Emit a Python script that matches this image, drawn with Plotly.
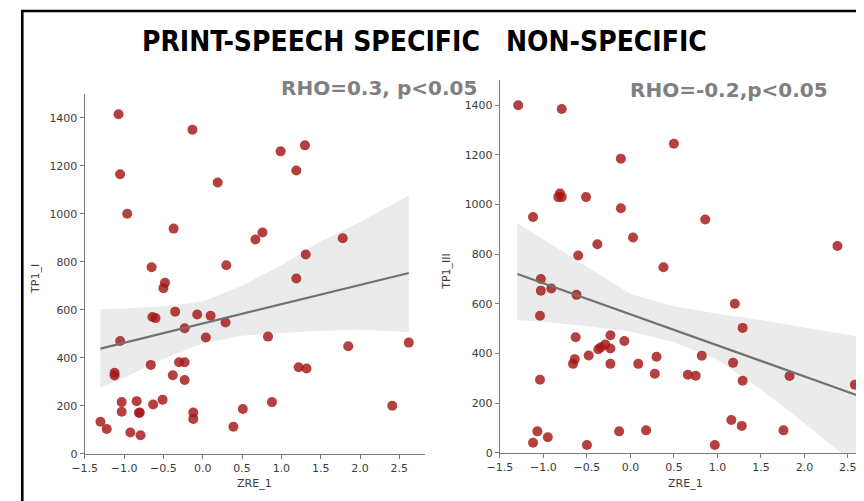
import plotly.graph_objects as go

# ---------------- data ----------------
left_x = [-1.07, -0.13, 0.99, 1.30, -1.05, 1.19, 0.19, -0.96, -0.37, 0.67, 0.76, 1.78, -0.65, 0.30, 1.31, 1.19,
          -0.48, -0.50, -0.64, -0.60, -0.35, -0.07, 0.10, -0.23, 0.29, -1.05, 0.04, 0.83, 1.85, 2.62,
          -1.12, -1.12, -0.66, -0.30, -0.23, -0.38, -0.23, 1.22, 1.32, -1.03, -1.03, -0.84, -0.81, -0.80,
          -0.63, -0.51, -1.30, -1.22, -0.92, -0.79, -0.12, -0.12, 0.39, 0.51, 0.88, 2.41]
left_y = [1415, 1350, 1260, 1285, 1165, 1180, 1130, 1000, 938, 893, 922, 898, 777, 785, 830, 730,
          712, 690, 570, 565, 592, 580, 575, 523, 547, 470, 484, 488, 448, 463,
          337, 326, 370, 381, 381, 327, 307, 360, 355, 215, 175, 219, 170, 172,
          205, 225, 133, 103, 88, 77, 172, 145, 112, 186, 215, 200]

right_x = [-1.29, -0.79, 0.50, -0.11, -0.81, -0.83, -0.79, -0.51, -1.12, -0.11, 0.86, 0.03, -0.38, -0.60, 2.38, 0.38,
           -1.03, -1.03, -0.91, -0.62, -1.04, -0.63, -0.64, -0.66, -0.48, -0.37, -0.34, -0.29, -0.23, -0.23,
           -0.23, -0.07, 0.09, 0.30, 0.28, 0.66, 0.75, 0.82, -1.04, 1.18, 1.20, 1.29, 1.29, 1.83, 2.58,
           -1.07, -1.12, -0.95, -0.50, -0.13, 0.18, 0.97, 1.16, 1.28, 1.76]
right_y = [1400, 1385, 1245, 1185, 1045, 1030, 1030, 1030, 950, 985, 940, 867, 840, 795, 833, 747,
           700, 653, 662, 636, 552, 465, 377, 358, 392, 417, 425, 436, 473, 420,
           358, 450, 358, 387, 318, 314, 310, 391, 294, 362, 600, 503, 290, 309, 274,
           86, 40, 62, 31, 86, 90, 31, 132, 108, 90]

# regression lines (end points)
left_line_x = [-1.30, 2.62]
left_line_y = [438, 753]
right_line_x = [-1.30, 2.62]
right_line_y = [720, 230]

# confidence bands
band_x = [-1.3, -1.0, -0.5, 0.0, 0.5, 1.0, 1.5, 2.0, 2.62]
left_upper = [603, 605, 614, 634, 700, 785, 885, 966, 1076]
left_lower = [274, 316, 395, 460, 492, 503, 512, 516, 507]
right_upper = [925, 860, 750, 640, 590, 560, 535, 505, 468]
right_lower = [535, 528, 510, 488, 445, 375, 255, 120, -60]

x_ticks = [-1.5, -1.0, -0.5, 0.0, 0.5, 1.0, 1.5, 2.0, 2.5]
x_tick_labels = ["\u22121.5", "\u22121.0", "\u22120.5", "0.0", "0.5", "1.0", "1.5", "2.0", "2.5"]
y_ticks = [0, 200, 400, 600, 800, 1000, 1200, 1400]
y_tick_labels = ["0", "200", "400", "600", "800", "1000", "1200", "1400"]

titles = ["PRINT-SPEECH SPECIFIC", "NON-SPECIFIC"]
rho_texts = ["RHO=0.3, p<0.05", "RHO=-0.2,p<0.05"]
y_titles = ["TP1_I", "TP1_III"]
x_title = "ZRE_1"

# ---------------- figure ----------------
W, H = 864, 501
OFF = 8  # page body margin


def px(x):
    return (x - OFF) / W


def py(y):
    return 1 - (y - OFF) / H


fig = go.Figure()

point_color = "rgba(165,22,22,0.82)"
band_color = "#ebebeb"
line_color = "#717171"


def add_panel(xs, ys, lx, ly, up, lo, xa, ya):
    fig.add_trace(go.Scatter(x=band_x + band_x[::-1], y=up + lo[::-1], fill="toself",
                             fillcolor=band_color, line=dict(width=0), mode="lines",
                             hoverinfo="skip", showlegend=False, xaxis=xa, yaxis=ya))
    fig.add_trace(go.Scatter(x=xs, y=ys, mode="markers",
                             marker=dict(size=10, color=point_color, line=dict(width=0)),
                             showlegend=False, xaxis=xa, yaxis=ya))
    fig.add_trace(go.Scatter(x=lx, y=ly, mode="lines", line=dict(color=line_color, width=2.2),
                             showlegend=False, xaxis=xa, yaxis=ya))


add_panel(left_x, left_y, left_line_x, left_line_y, left_upper, left_lower, "x", "y")
add_panel(right_x, right_y, right_line_x, right_line_y, right_upper, right_lower, "x2", "y2")

axis_common = dict(showline=True, linecolor="#7a7a7a", linewidth=1.3, ticks="outside",
                   ticklen=4, tickwidth=1, tickcolor="#7a7a7a", showgrid=False, zeroline=False,
                   tickfont=dict(family="DejaVu Sans", size=11, color="#3c3c3c"))

# right axis runs off the page edge: end of domain is page pixel W + OFF
right_xmax = -1.5 + (W + OFF - 494.3) / 88.3

fig.update_layout(
    width=W, height=H, margin=dict(l=0, r=0, t=0, b=0),
    paper_bgcolor="white", plot_bgcolor="white",
    xaxis=dict(domain=[px(72.7), px(417.7)], range=[-1.5, 2.82], tickvals=x_ticks,
               ticktext=x_tick_labels, anchor="y", **axis_common),
    yaxis=dict(domain=[py(460), py(95)], range=[0, 1500], tickvals=y_ticks,
               ticktext=y_tick_labels, anchor="x", **axis_common),
    xaxis2=dict(domain=[px(494.3), 1.0], range=[-1.5, right_xmax], tickvals=x_ticks,
                ticktext=x_tick_labels, anchor="y2", **axis_common),
    yaxis2=dict(domain=[py(459), py(81.5)], range=[0, 1500], tickvals=y_ticks,
                ticktext=y_tick_labels, anchor="x2", **axis_common),
)

title_font = dict(family="Liberation Sans Narrow, DejaVu Sans Condensed, Arial Narrow", size=28, color="black")
rho_font = dict(family="DejaVu Sans, Arial", size=20, color="#808080")
lab_font = dict(family="DejaVu Sans", size=11, color="#3c3c3c")

ann = [
    dict(text="<b>" + titles[0] + "</b>", x=px(302), y=py(42), font=title_font),
    dict(text="<b>" + titles[1] + "</b>", x=px(602.5), y=py(42), font=title_font),
    dict(text="<b>" + rho_texts[0] + "</b>", x=px(371), y=py(89), font=rho_font),
    dict(text="<b>" + rho_texts[1] + "</b>", x=px(726.5), y=py(91), font=rho_font),
    dict(text=y_titles[0], x=px(22), y=py(283), textangle=-90, font=lab_font),
    dict(text=y_titles[1], x=px(440), y=py(275), textangle=-90, font=lab_font),
    dict(text=x_title, x=px(245), y=py(490), font=lab_font),
    dict(text=x_title, x=px(683), y=py(490), font=lab_font),
]
for a in ann:
    fig.add_annotation(xref="paper", yref="paper", showarrow=False, xanchor="center",
                       yanchor="middle", **a)

# black frame (top and left edges)
fx = 1.3 / W
fig.add_shape(type="line", xref="paper", yref="paper", x0=0, x1=1, y0=py(11), y1=py(11),
              line=dict(color="black", width=2.6))
fig.add_shape(type="line", xref="paper", yref="paper", x0=fx, x1=fx, y0=0, y1=py(11),
              line=dict(color="black", width=2.6))

fig.write_html("out.html")
